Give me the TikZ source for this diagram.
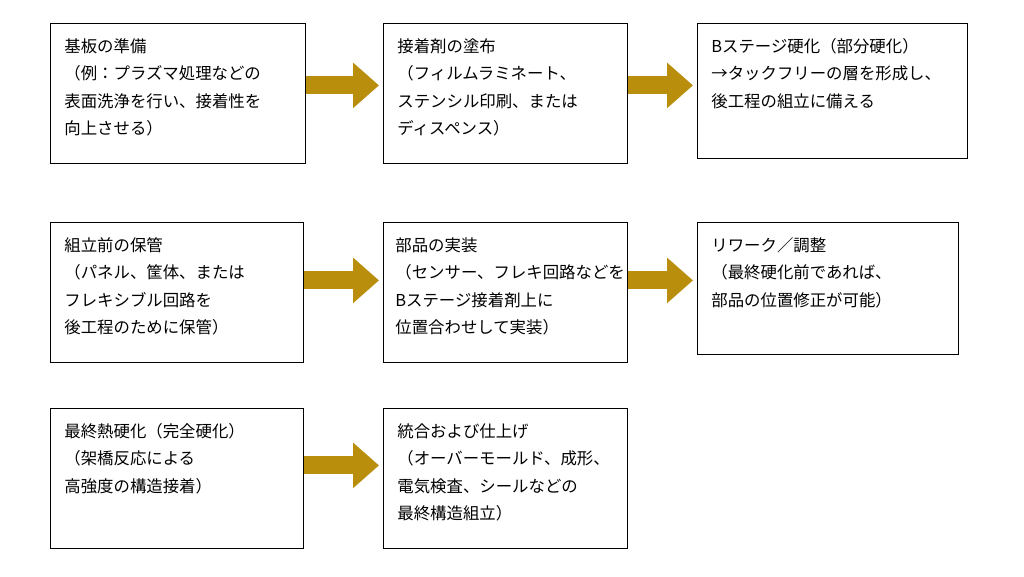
\documentclass[tikz,border=0pt]{standalone}
\usepackage{fontspec}
\setmainfont{Noto Sans CJK JP}
\usetikzlibrary{arrows.meta}

\begin{document}
\begin{tikzpicture}[x=1pt,y=-1pt]
	 \tikzstyle{stepbox}=[draw,line width=0.8pt,anchor=north west,align=left,inner sep=0pt,
	   font=\fontsize{16.4}{27.5}\selectfont]
	 \tikzstyle{flow}=[draw,line width=18pt,color={rgb,255:red,184;green,142;blue,12},
	   -{Triangle[length=26pt,width=44pt]},shorten >=4pt]
	 \useasboundingbox (0,0) rectangle (1024,576);

	 \node[stepbox,minimum width=255pt,minimum height=140pt] (s1) at (50,23) {};
	 \node[stepbox,minimum width=244pt,minimum height=140pt] (s2) at (383,23) {};
	 \node[stepbox,minimum width=270pt,minimum height=135pt] (s3) at (697,23) {};
	 \node[stepbox,minimum width=253pt,minimum height=140pt] (s4) at (50,222) {};
	 \node[stepbox,minimum width=244pt,minimum height=140pt] (s5) at (383,222) {};
	 \node[stepbox,minimum width=261pt,minimum height=132pt] (s6) at (697,222) {};
	 \node[stepbox,minimum width=253pt,minimum height=140pt] (s7) at (50,408) {};
	 \node[stepbox,minimum width=244pt,minimum height=140pt] (s8) at (383,408) {};

	 \node[stepbox,draw=none] (t1) at (64,38) {基板の準備\\（例：プラズマ処理などの\\表面洗浄を行い、接着性を\\向上させる）};
	 \node[stepbox,draw=none] (t2) at (397,38) {接着剤の塗布\\（フィルムラミネート、\\ステンシル印刷、または\\ディスペンス）};
	 \node[stepbox,draw=none] (t3) at (711,38) {Bステージ硬化（部分硬化）\\→タックフリーの層を形成し、\\後工程の組立に備える};
	 \node[stepbox,draw=none] (t4) at (64,237) {組立前の保管\\（パネル、筐体、または\\フレキシブル回路を\\後工程のために保管）};
	 \node[stepbox,draw=none] (t5) at (395,237) {部品の実装\\（センサー、フレキ回路などを\\Bステージ接着剤上に\\位置合わせして実装）};
	 \node[stepbox,draw=none] (t6) at (711,237) {リワーク／調整\\（最終硬化前であれば、\\部品の位置修正が可能）};
	 \node[stepbox,draw=none] (t7) at (64,423) {最終熱硬化（完全硬化）\\（架橋反応による\\高強度の構造接着）};
	 \node[stepbox,draw=none] (t8) at (397,423) {統合および仕上げ\\（オーバーモールド、成形、\\電気検査、シールなどの\\最終構造組立）};

	 \draw[flow] ([yshift=8pt]s1.east) -- ([yshift=8pt]s1.east -| s2.west);
	 \draw[flow] ([yshift=8pt]s2.east) -- ([yshift=8pt]s2.east -| s3.west);
	 \draw[flow] ([yshift=12pt]s4.east) -- ([yshift=12pt]s4.east -| s5.west);
	 \draw[flow] ([yshift=12pt]s5.east) -- ([yshift=12pt]s5.east -| s6.west);
	 \draw[flow] ([yshift=13pt]s7.east) -- ([yshift=13pt]s7.east -| s8.west);
\end{tikzpicture}
\end{document}
